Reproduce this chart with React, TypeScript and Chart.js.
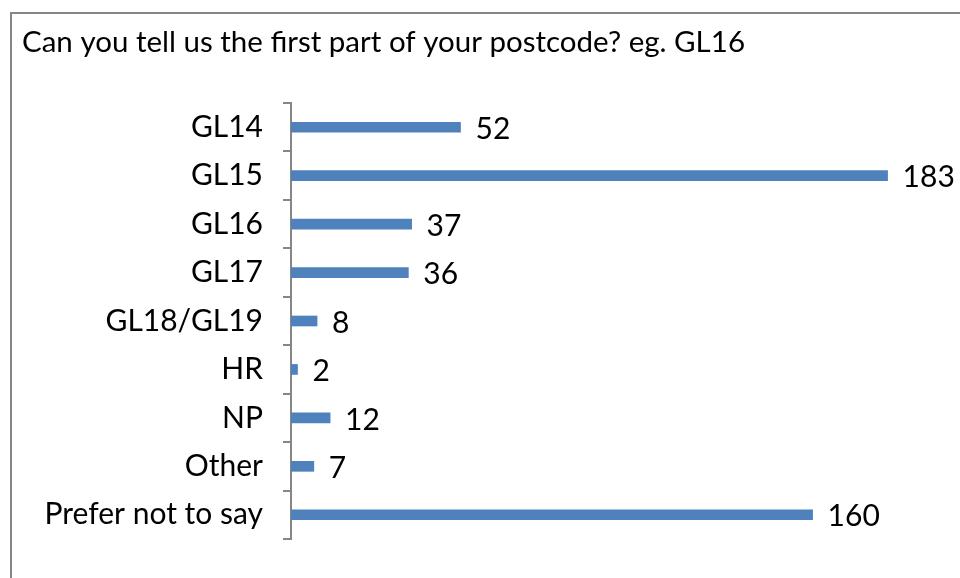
import React, { useEffect, useRef } from "react";
import { Chart, registerables } from "chart.js";

Chart.register(...registerables);

const TITLE = "Can you tell us the first part of your postcode? eg. GL16";
const categories = ["GL14", "GL15", "GL16", "GL17", "GL18/GL19", "HR", "NP", "Other", "Prefer not to say"];
const counts = [52, 183, 37, 36, 8, 2, 12, 7, 160];

const FONT = "Lato, 'Open Sans', sans-serif";

const framePlugin = {
  id: "frame",
  beforeDraw(chart: any) {
    const ctx = chart.ctx;
    ctx.save();
    ctx.fillStyle = "#ffffff";
    ctx.fillRect(0, 0, chart.width, chart.height);
    ctx.strokeStyle = "#868686";
    ctx.lineWidth = 2;
    ctx.strokeRect(11, 13, 1200, 1200);
    ctx.fillStyle = "#000000";
    ctx.font = `29.5px ${FONT}`;
    ctx.textBaseline = "alphabetic";
    ctx.textAlign = "left";
    ctx.fillText(TITLE, 22, 52);
    ctx.restore();
  },
};

const valueLabels = {
  id: "valueLabels",
  afterDatasetsDraw(chart: any) {
    const ctx = chart.ctx;
    const meta = chart.getDatasetMeta(0);
    ctx.save();
    ctx.fillStyle = "#000000";
    ctx.font = `30px ${FONT}`;
    ctx.textBaseline = "middle";
    ctx.textAlign = "left";
    meta.data.forEach((bar: any, i: number) => {
      ctx.fillText(String(counts[i]), bar.x + 15, bar.y + 2);
    });
    ctx.restore();
  },
};

export default function App() {
  const ref = useRef<HTMLCanvasElement>(null);
  useEffect(() => {
    const chart = new Chart(ref.current!, {
      type: "bar",
      data: {
        labels: categories,
        datasets: [
          {
            data: counts,
            backgroundColor: "#4F81BD",
            borderWidth: 0,
            barThickness: 10,
          },
        ],
      },
      options: {
        indexAxis: "y",
        animation: false,
        responsive: false,
        maintainAspectRatio: false,
        layout: { padding: { top: 103, bottom: 39, left: 0, right: 17 } },
        plugins: { legend: { display: false }, tooltip: { enabled: false }, title: { display: false } },
        scales: {
          x: { display: false, min: 0, max: 200 },
          y: {
            afterFit(scale: any) {
              scale.width = 291;
            },
            border: { display: true, color: "#868686", width: 2 },
            grid: {
              offset: true,
              drawOnChartArea: false,
              drawTicks: true,
              tickLength: 8,
              color: "#868686",
              lineWidth: 2,
            },
            ticks: {
              color: "#000000",
              padding: 20,
              font: { family: FONT, size: 30 },
            },
          },
        },
      },
      plugins: [framePlugin, valueLabels],
    });
    return () => chart.destroy();
  }, []);
  return (
    <div style={{ position: "fixed", left: 0, top: 0, width: 960, height: 578, overflow: "hidden", background: "#fff" }}>
      <canvas ref={ref} width={960} height={578} style={{ width: 960, height: 578, display: "block" }} />
    </div>
  );
}
